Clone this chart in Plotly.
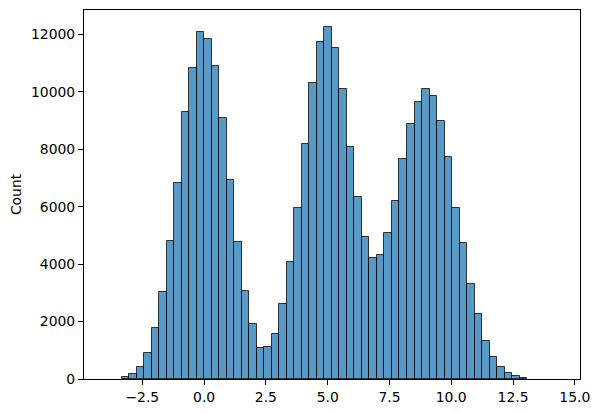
import plotly.graph_objects as go

# histogram: 60 equal bins from about -3.95 to 14.29, None where a bin has no visible bar
bin_start = -3.95
bin_width = 0.304
counts = [None, None, 59, 164, 407, 895, 1765, 3019, 4794, 6814,
          9286, 10818, 12071, 11828, 10888, 9077, 6919, 4760, 3053, 1904,
          1068, 1103, 1556, 2600, 4063, 5943, 8172, 10296, 11723, 12246,
          11514, 10087, 8078, 6326, 4933, 4202, 4307, 5073, 6187, 7650,
          8868, 9634, 10087, 9843, 8972, 7720, 5943, 4725, 3300, 2250,
          1310, 755, 407, 198, 94, 25, None, None, None, None]
x_ticks = [-2.5, 0, 2.5, 5, 7.5, 10, 12.5, 15]
y_ticks = [0, 2000, 4000, 6000, 8000, 10000, 12000]

fig = go.Figure()
fig.add_trace(go.Bar(
    y=counts,
    x0=bin_start + bin_width / 2,
    dx=bin_width,
    width=bin_width,
    marker=dict(color="rgba(31,119,180,0.75)", line=dict(color="rgba(0,0,0,0.75)", width=1)),
))

axis_style = dict(
    showgrid=False, zeroline=False, showline=True, mirror=True,
    linecolor="black", linewidth=1.1,
    ticks="outside", ticklen=5, tickwidth=1.1, tickcolor="black",
)
fig.update_xaxes(range=[-4.86, 15.21], tickvals=x_ticks, tickformat=".1f", **axis_style)
fig.update_yaxes(range=[0, 12850], tickvals=y_ticks, tickformat="d",
                 title=dict(text="Count", standoff=7, font=dict(size=13.9)), **axis_style)

# the page body adds an 8px margin, so the figure is 8px smaller than the window
fig.update_layout(
    width=591, height=405,
    margin=dict(l=75.5, r=19, t=2, b=34),
    plot_bgcolor="white", paper_bgcolor="white",
    font=dict(family="DejaVu Sans", size=13.9, color="black"),
    showlegend=False, bargap=0,
)

fig.write_html("out.html")
